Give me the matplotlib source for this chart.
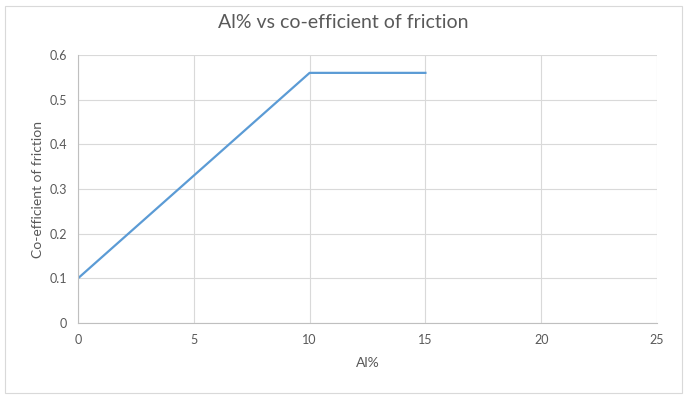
import matplotlib.pyplot as plt
from matplotlib.patches import Rectangle

al_pct = [0, 10, 15]
friction = [0.1, 0.56, 0.56]
x_ticks = [0, 5, 10, 15, 20, 25]
y_ticks = [0, 0.1, 0.2, 0.3, 0.4, 0.5, 0.6]
y_labels = ["0", "0.1", "0.2", "0.3", "0.4", "0.5", "0.6"]

plt.rcParams['font.family'] = ['Lato', 'DejaVu Sans']
text_col = "#595959"

fig = plt.figure(figsize=(6.87, 3.99), dpi=100)
ax = fig.add_axes([78/687, 1 - 323/399, (657 - 78)/687, (323 - 55)/399])

# chart border
fig.patches.append(Rectangle((5/687, 6/399), 677/687, 387/399, transform=fig.transFigure,
                             fill=False, edgecolor="#d9d9d9", linewidth=0.8))

ax.plot(al_pct, friction, color="#5b9bd5", linewidth=1.6)

ax.set_xlim(0, 25)
ax.set_ylim(0, 0.6)
ax.set_xticks(x_ticks)
ax.set_yticks(y_ticks)
ax.set_yticklabels(y_labels)
ax.grid(True, color="#d9d9d9", linewidth=0.8)
ax.set_axisbelow(True)
for s in ["top", "right"]:
    ax.spines[s].set_visible(False)
for s in ["left", "bottom"]:
    ax.spines[s].set_color("#bfbfbf")
    ax.spines[s].set_linewidth(0.8)
ax.tick_params(length=0, labelsize=9, labelcolor=text_col, pad=8)

# title centred on the whole chart, like Excel
fig.text(343/687, 1 - 22/399, "Al% vs co-efficient of friction", fontsize=14,
         color=text_col, ha="center", va="center")
ax.set_xlabel("Al%", fontsize=10, color=text_col, labelpad=8)
ax.set_ylabel("Co-efficient of friction", fontsize=10, color=text_col, labelpad=4)

fig.savefig("out.png", dpi=100)
